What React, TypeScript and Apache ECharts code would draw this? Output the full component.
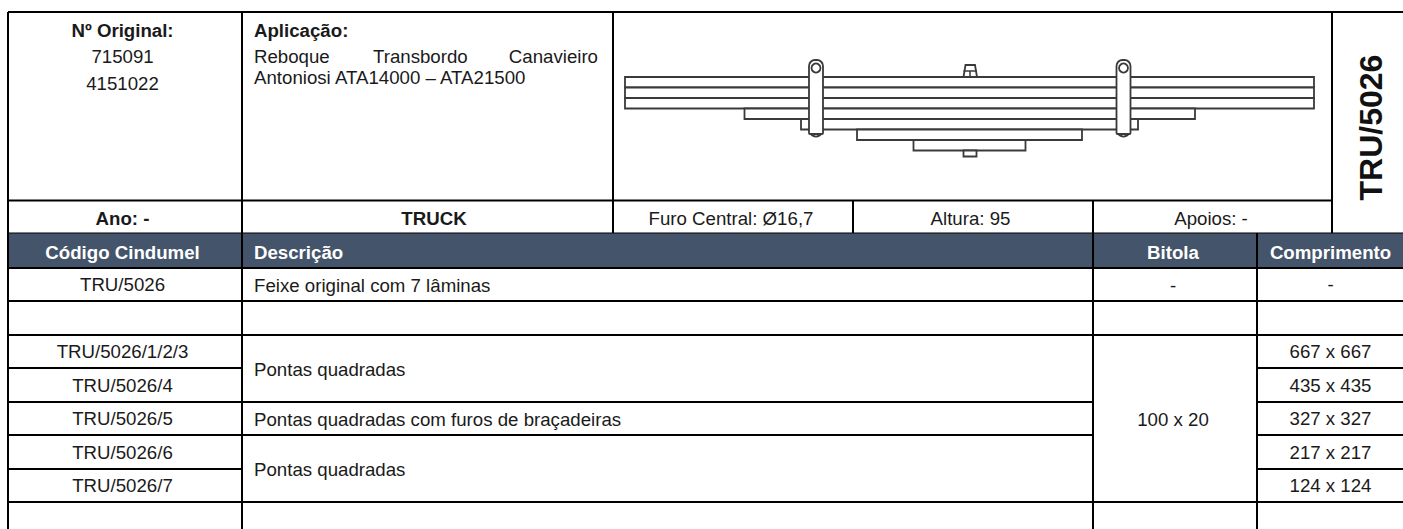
import React, { useEffect, useRef } from "react";
import * as echarts from "echarts";

const originalNumbers = ["715091", "4151022"];
const applicationWords = ["Reboque", "Transbordo", "Canavieiro"];
const applicationLine2 = "Antoniosi ATA14000 – ATA21500";
const infoRow = ["Furo Central: Ø16,7", "Altura: 95", "Apoios: -"];
const headers = ["Código Cindumel", "Descrição", "Bitola", "Comprimento"];
const codes = ["TRU/5026", "", "TRU/5026/1/2/3", "TRU/5026/4", "TRU/5026/5", "TRU/5026/6", "TRU/5026/7"];
const lengths = ["-", "", "667 x 667", "435 x 435", "327 x 327", "217 x 217", "124 x 124"];
const descriptions = [
  "Feixe original com 7 lâminas",
  "Pontas quadradas",
  "Pontas quadradas com furos de braçadeiras",
  "Pontas quadradas",
];
const gauge = "100 x 20";
const partCode = "TRU/5026";

const FONT = '"Liberation Sans", Arial, sans-serif';
const FS = 18.67;
const X = { left: 8, c1: 242, c2: 613, c3: 853, c4: 1093, c5: 1257, c6: 1332, right: 1403 };
const rowY = [268, 301, 335, 368, 402, 435, 469, 502];
const CODE_X = 122.5;
const INK = "#000";
const DRAW = "#3a3a3a";

function line(x1: number, y1: number, x2: number, y2: number, w = 2, color = INK) {
  return { type: "line", shape: { x1, y1, x2, y2 }, style: { stroke: color, lineWidth: w } };
}
function text(t: string, x: number, y: number, align = "center", bold = false, size = FS, fill = "#1a1a1a") {
  return {
    type: "text",
    x,
    y,
    style: { text: t, x: 0, y: 0, fill, font: `${bold ? "bold " : ""}${size}px ${FONT}`, align, verticalAlign: "middle" },
  };
}

function buildGraphics() {
  const g: any[] = [];
  // header band
  g.push({ type: "rect", shape: { x: X.left, y: 233, width: X.right - X.left, height: 35 }, style: { fill: "#44546a" } });

  // grid: top block
  g.push(line(X.left, 12, X.right, 12));
  g.push(line(X.left, 200.5, X.c6, 200.5));
  g.push(line(X.left, 233, X.right, 233, 1));
  [X.c1, X.c2, X.c6].forEach((x) => g.push(line(x, 12, x, 233)));
  [X.c3, X.c4].forEach((x) => g.push(line(x, 200, x, 233)));
  // grid: lower block
  [X.c1, X.c4, X.c5].forEach((x) => g.push(line(x, 233, x, 529)));
  g.push(line(X.left, 12, X.left, 529));
  g.push(line(X.left, rowY[0], X.right, rowY[0]));
  [1, 2, 7].forEach((i) => g.push(line(X.left, rowY[i], X.right, rowY[i])));
  [3, 6].forEach((i) => {
    g.push(line(X.left, rowY[i], X.c1, rowY[i]));
    g.push(line(X.c5, rowY[i], X.right, rowY[i]));
  });
  [4, 5].forEach((i) => {
    g.push(line(X.left, rowY[i], X.c4, rowY[i]));
    g.push(line(X.c5, rowY[i], X.right, rowY[i]));
  });

  // top block text
  g.push(text("Nº Original:", CODE_X, 30, "center", true));
  originalNumbers.forEach((n, i) => g.push(text(n, CODE_X, 56.5 + i * 27)));
  g.push(text("Aplicação:", 254, 30, "left", true));
  g.push(text(applicationWords[0], 254, 56.5, "left"));
  g.push(text(applicationWords[1], 373, 56.5, "left"));
  g.push(text(applicationWords[2], 598, 56.5, "right"));
  g.push(text(applicationLine2, 254, 77.5, "left"));
  g.push(text("Ano: -", CODE_X, 218, "center", true));
  g.push(text("TRUCK", 434, 218, "center", true));
  g.push(text(infoRow[0], 731, 218));
  g.push(text(infoRow[1], 970.5, 218));
  g.push(text(infoRow[2], 1211, 218));
  g.push({
    ...text(partCode, 0, 0, "center", true, 32, "#111"),
    x: 1370.5,
    y: 127.5,
    rotation: Math.PI / 2,
  });

  // column heads
  g.push(text(headers[0], CODE_X, 252, "center", true, FS, "#fff"));
  g.push(text(headers[1], 254, 252, "left", true, FS, "#fff"));
  g.push(text(headers[2], 1173, 252, "center", true, FS, "#fff"));
  g.push(text(headers[3], 1330.5, 252, "center", true, FS, "#fff"));

  // rows
  codes.forEach((c, i) => {
    const cy = (rowY[i] + rowY[i + 1]) / 2;
    if (c) g.push(text(c, CODE_X, cy));
    if (lengths[i]) g.push(text(lengths[i], 1330.5, cy));
  });
  g.push(text(descriptions[0], 254, 285, "left"));
  g.push(text(descriptions[1], 254, 369, "left"));
  g.push(text(descriptions[2], 254, 419, "left"));
  g.push(text(descriptions[3], 254, 469, "left"));
  g.push(text("-", 1173, 285));
  g.push(text(gauge, 1173, 419));

  // leaf spring drawing
  const leaves: [number, number, number, number][] = [
    [625, 1314, 77, 87.5],
    [625, 1314, 87.5, 98],
    [625, 1314, 98, 108.5],
    [744.5, 1195, 108.5, 119],
    [801, 1138, 119, 129.5],
    [857, 1082, 129.5, 140],
    [913.5, 1025.5, 140, 150.5],
  ];
  const s = { stroke: DRAW, lineWidth: 1.8, fill: "#fff" };
  leaves.forEach(([a, b, y1, y2]) =>
    g.push({ type: "rect", shape: { x: a, y: y1, width: b - a, height: y2 - y1 }, style: s })
  );
  // centre bolt
  g.push({ type: "polygon", shape: { points: [[963.5, 77], [965.5, 65], [975, 65], [977, 77]] }, style: s });
  g.push(line(963.5, 71, 977, 71, 1.5, DRAW));
  g.push(line(970, 71, 970, 77, 1.5, DRAW));
  g.push({ type: "rect", shape: { x: 963.5, y: 150.5, width: 13, height: 6 }, style: s });
  // clamps
  [816, 1123.5].forEach((cx) => {
    g.push({ type: "circle", shape: { cx, cy: 130, r: 6.5 }, style: s });
    g.push({ type: "rect", shape: { x: cx - 7, y: 60, width: 14, height: 74, r: [6, 6, 1, 1] }, style: s });
    g.push({ type: "circle", shape: { cx, cy: 68, r: 4.5 }, style: s });
  });
  return g;
}

export default function App() {
  const ref = useRef<HTMLDivElement>(null);
  useEffect(() => {
    const chart = echarts.init(ref.current!, undefined, { renderer: "svg" });
    chart.setOption({ animation: false, backgroundColor: "#fff", graphic: { elements: buildGraphics() } });
    return () => chart.dispose();
  }, []);
  return <div ref={ref} style={{ position: "fixed", left: 0, top: 0, width: 1403, height: 529 }} />;
}
